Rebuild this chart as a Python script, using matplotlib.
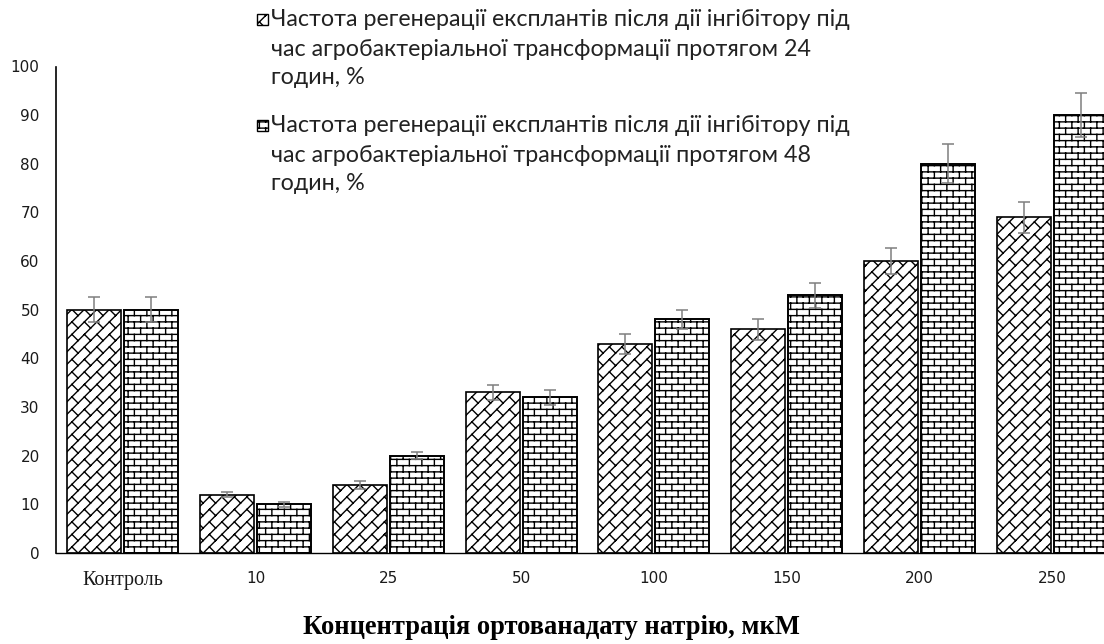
import warnings
warnings.filterwarnings('ignore')
import numpy as np
import matplotlib
matplotlib.use('Agg')
import matplotlib.pyplot as plt
import matplotlib.hatch as mhatch
from matplotlib.path import Path
from matplotlib.patches import Rectangle

# ---------------- data ----------------
categories = ['Контроль', '10', '25', '50', '100', '150', '200', '250']
values_24h = [50, 12, 14, 33, 43, 46, 60, 69]
values_48h = [50, 10, 20, 32, 48, 53, 80, 90]
err_24h = [2.6, 0.5, 0.8, 1.5, 2.0, 2.2, 2.7, 3.2]
err_48h = [2.6, 0.5, 0.7, 1.5, 2.0, 2.6, 4.0, 4.5]
label_24h = ['Частота регенерації експлантів після дії інгібітору під',
             'час агробактеріальної трансформації протягом 24',
             'годин, %']
label_48h = ['Частота регенерації експлантів після дії інгібітору під',
             'час агробактеріальної трансформації протягом 48',
             'годин, %']
x_title = 'Концентрація ортованадату натрію, мкМ'
y_ticks = [0, 10, 20, 30, 40, 50, 60, 70, 80, 90, 100]


# ---------------- custom brick hatches ----------------
class _SegHatch(mhatch.HatchPatternBase):
    def set_vertices_and_codes(self, vertices, codes):
        arr = np.array(self.segs, dtype=float).reshape(-1, 2)
        vertices[:] = arr
        codes[0::2] = Path.MOVETO
        codes[1::2] = Path.LINETO


class BrickHatch(_SegHatch):
    def __init__(self, hatch, density):
        segs = []
        if 'b' in hatch:
            N, M = 16, 8
            for i in range(-1, N + 1):
                y0 = (i + 0.5) / N
                segs.append(((-0.1, y0), (1.1, y0)))
                off = 0.25 + 0.5 * (i % 2)
                for j in range(-1, M + 1):
                    x = (j + off) / M
                    segs.append(((x, y0), (x, y0 + 1.0 / N)))
        self.segs = segs
        self.num_vertices = 2 * len(segs)


class DiagBrickHatch(_SegHatch):
    # long lines along "/" with staggered short "\" joints
    def __init__(self, hatch, density):
        segs = []
        if 'd' in hatch:
            N, M = 8, 8
            for k in range(-N - 2, N + 2):
                c = (k + 0.5) / N
                segs.append(((-0.3, -0.3 + c), (1.3, 1.3 + c)))
                off = 0.25 + k * (0.5 - 0.5 * M / N)
                for j in range(-3, M + 3):
                    t = (j + off) / M
                    p0 = (t, t + c)
                    p1 = (t - 0.5 / N, t + c + 0.5 / N)
                    if -0.2 < p0[1] < 1.2 and -0.2 < p0[0] < 1.2:
                        segs.append((p0, p1))
        self.segs = segs
        self.num_vertices = 2 * len(segs)


mhatch._hatch_types.append(BrickHatch)
mhatch._hatch_types.append(DiagBrickHatch)

plt.rcParams['hatch.linewidth'] = 1.0

W, H = 1104, 644
fig = plt.figure(figsize=(W / 100, H / 100), dpi=100)
fig.patch.set_facecolor('white')

ax_left, ax_right = 56.3, 1118.7
ax_top, ax_bot = 66.5, 553.0
ax = fig.add_axes([ax_left / W, 1 - ax_bot / H, (ax_right - ax_left) / W, (ax_bot - ax_top) / H])

x = np.arange(len(categories))
bw = 54 / 132.8
gap = 3 / 132.8
off = bw / 2 + gap / 2

ax.bar(x - off, values_24h, width=bw, color='white', edgecolor='black',
       linewidth=1.2, hatch='d', zorder=2)
ax.bar(x + off, values_48h, width=bw, color='white', edgecolor='black',
       linewidth=1.4, hatch='b', zorder=2)
ax.errorbar(x - off, values_24h, yerr=err_24h, fmt='none', ecolor='#7f7f7f',
            elinewidth=1.1, capsize=4, capthick=1.1, zorder=3)
ax.errorbar(x + off, values_48h, yerr=err_48h, fmt='none', ecolor='#7f7f7f',
            elinewidth=1.1, capsize=4, capthick=1.1, zorder=3)

ax.set_xlim(-0.5, len(categories) - 0.5)
ax.set_ylim(0, 100)
ax.set_yticks(y_ticks)
ax.set_yticklabels([str(v) for v in y_ticks], fontsize=11, color='#1a1a1a',
                   family='DejaVu Sans')
ax.set_xticks(x)
ax.set_xticklabels(categories, fontsize=11, color='#1a1a1a')
ax.tick_params(axis='both', length=0)
ax.tick_params(axis='y', pad=12)
ax.tick_params(axis='x', pad=13)
for s in ['top', 'right']:
    ax.spines[s].set_visible(False)
ax.spines['left'].set_linewidth(1.2)
ax.spines['bottom'].set_linewidth(1.0)
ax.set_facecolor('white')

renderer = fig.canvas.get_renderer()


def fit_text(t, target_w):
    bb = t.get_window_extent(renderer)
    t.set_fontsize(t.get_fontsize() * target_w / bb.width)


for lab in ax.get_xticklabels():
    if lab.get_text() == 'Контроль':
        lab.set_family('Liberation Serif')
        lab.set_fontsize(12)
        fit_text(lab, 81)
    else:
        lab.set_family('DejaVu Sans')

# x title
xt = fig.text(551 / W, 1 - 628 / H, x_title, ha='center', va='center',
              family='Liberation Serif', fontweight='bold', fontsize=14, color='black')
fit_text(xt, 498)

# legend (manual)
leg_font = 'Lato'
tx0 = 271
entries = [(label_24h, 'd', [19, 49, 78]), (label_48h, 'b', [125, 155, 184])]
for lines, hatch, ys in entries:
    rect = Rectangle((257 / W, 1 - (ys[0] + 6) / H), 11 / W, 11 / H,
                     transform=fig.transFigure, facecolor='white', edgecolor='black',
                     linewidth=1.0, hatch=hatch)
    fig.add_artist(rect)
    texts = []
    for ln, yy in zip(lines, ys):
        t = fig.text(tx0 / W, 1 - yy / H, ln, ha='left', va='center', family=leg_font,
                     fontsize=12, color='#222222')
        texts.append(t)
    bb = texts[0].get_window_extent(renderer)
    scale = 578 / bb.width
    for t in texts:
        t.set_fontsize(t.get_fontsize() * scale)

fig.savefig('out.png', dpi=100, facecolor='white')
